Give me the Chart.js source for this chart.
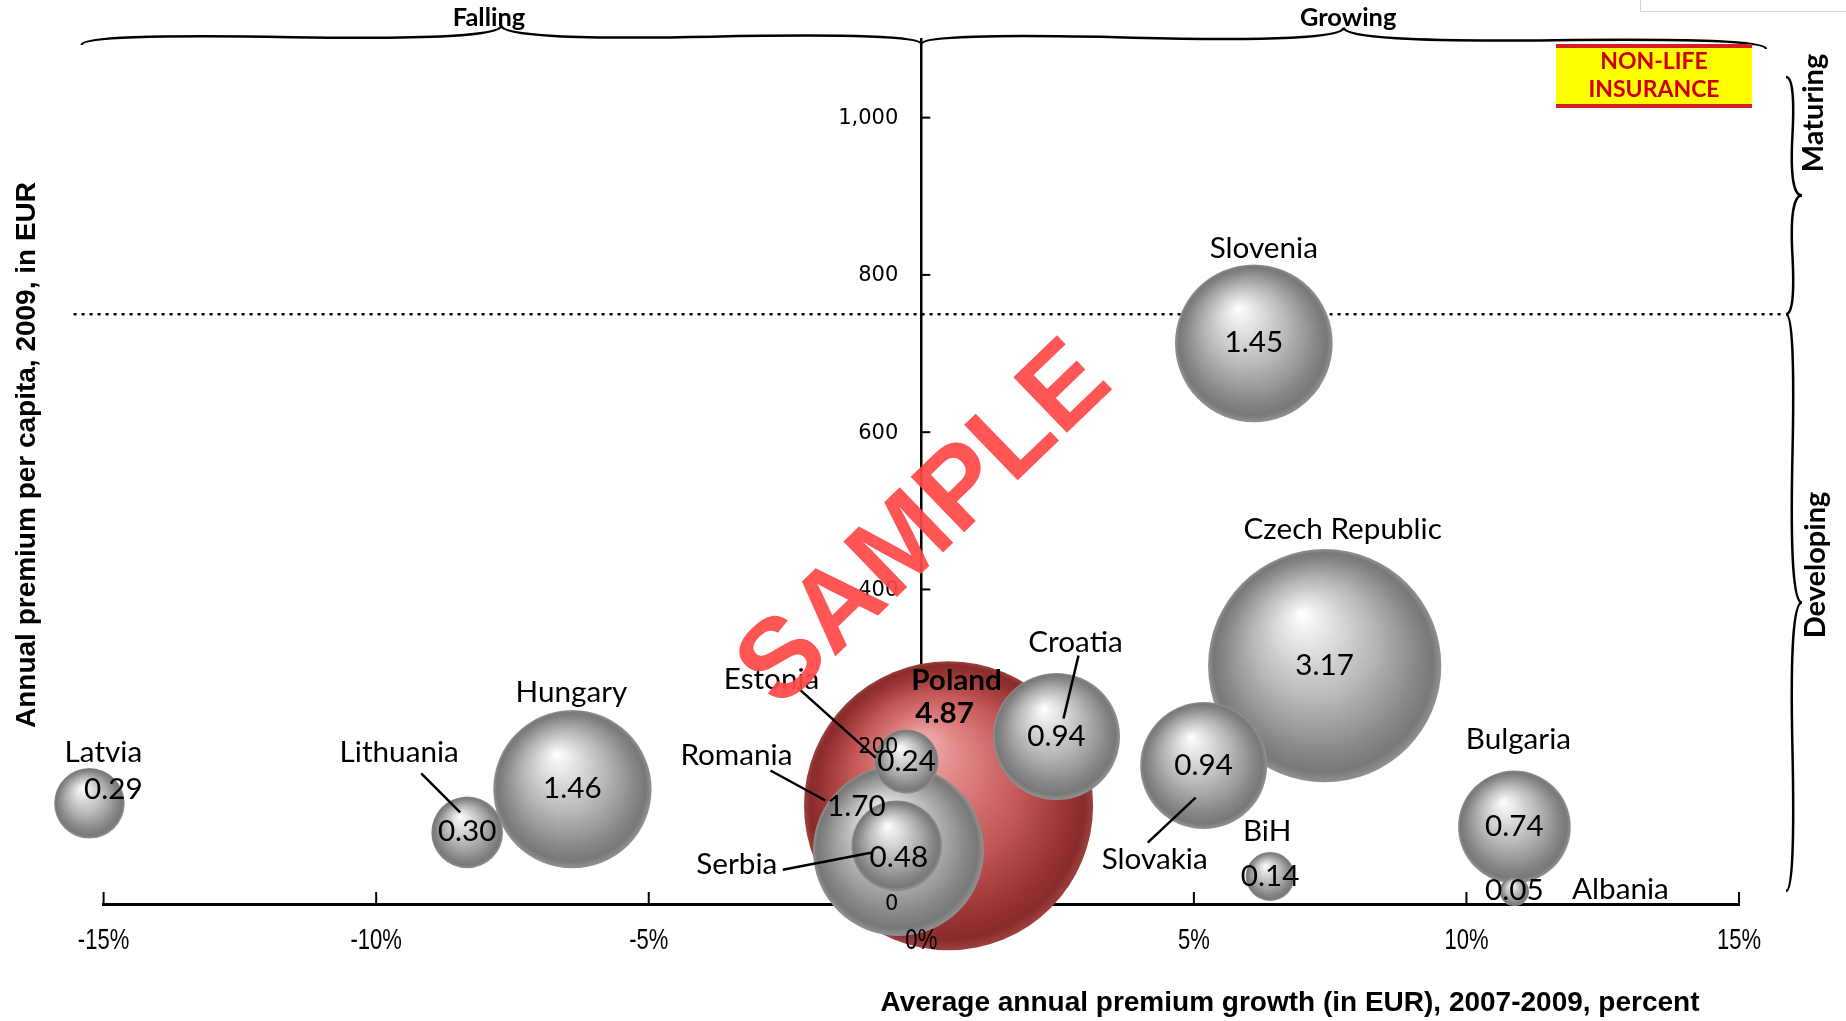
<!DOCTYPE html>
<html>
<head>
<meta charset="utf-8">
<title>Non-life insurance</title>
<script src="https://cdn.jsdelivr.net/npm/chart.js@4.4.1/dist/chart.umd.min.js"></script>
<style>
  html, body { margin: 0; padding: 0; background: #fff; }
</style>
</head>
<body>
<canvas id="bubbleChart" width="1846" height="1021"></canvas>
<script>
// data (largest bubble first so small ones are drawn on top)
const countries = ['Poland', 'Czech Republic', 'Romania', 'Hungary', 'Slovenia', 'Croatia', 'Slovakia', 'Bulgaria', 'Serbia', 'Lithuania', 'Latvia', 'Estonia', 'BiH', 'Albania'];
const premiumGrowth = [0.5, 7.4, -0.42, -6.4, 6.1, 2.48, 5.18, 10.88, -0.45, -8.33, -15.26, -0.27, 6.4, 10.88];
const premiumPerCapita = [125, 303, 68, 146, 713, 213, 176, 98, 74, 91, 128, 181, 35, 16];
const marketSize = [4.87, 3.17, 1.70, 1.46, 1.45, 0.94, 0.94, 0.74, 0.48, 0.30, 0.29, 0.24, 0.14, 0.05];
const xTicks = [-15, -10, -5, 0, 5, 10, 15];
const yTicks = [0, 200, 400, 600, 800, 1000];
const maturingLevel = 750;

const SIZE_K = 65.5;   // px per sqrt(bubble value)
const highlight = 'Poland';

// label placement relative to bubble centre, in px
const labelLayout = {
    'Poland': { name: [8, -125], value: [-4, -92], bold: true },
    'Czech Republic': { name: [18, -136] },
    'Romania': { name: [-162, -95], line: [-128, -80, -73, -50], value: [-42, -44] },
    'Hungary': { name: [-1, -96] },
    'Slovenia': { name: [10, -94] },
    'Croatia': { name: [19, -94], line: [22, -81, 7, -18] },
    'Slovakia': { name: [-49, 94], line: [-8, 32, -56, 77] },
    'Bulgaria': { name: [4, -87] },
    'Serbia': { name: [-160, 19], line: [-114, 24, -26, 7], value: [2, 12] },
    'Lithuania': { name: [-68, -79], line: [-46, -59, -7, -20] },
    'Latvia': { name: [14, -50], value: [24, -13] },
    'Estonia': { name: [-135, -82], line: [-109, -74, -31, -4] },
    'BiH': { name: [-3, -45] },
    'Albania': { name: [106, -1] }
};

const grayStops = [[0, '#ffffff'], [0.22, '#e0e0e0'], [0.55, '#b2b2b2'], [0.82, '#888888'], [0.94, '#787878'], [1, '#929292']];
const redStops = [[0, '#f6b4b4'], [0.25, '#e08585'], [0.6, '#c25555'], [0.86, '#963232'], [0.95, '#8a2c2c'], [1, '#9c4040']];

function bubbleRadius(i) {
    return SIZE_K * Math.sqrt(marketSize[i]);
}

function sphereFill(c) {
    const chart = c.chart;
    const i = c.dataIndex;
    const isRed = countries[i] === highlight;
    const base = isRed ? '#c25555' : '#a8a8a8';
    if (!chart.chartArea || i === undefined) return base;
    const cx = chart.scales.x.getPixelForValue(premiumGrowth[i]);
    const cy = chart.scales.y.getPixelForValue(premiumPerCapita[i]);
    if (!isFinite(cx) || !isFinite(cy)) return base;
    const r = bubbleRadius(i);
    const g = chart.ctx.createRadialGradient(cx - 0.2 * r, cy - 0.45 * r, 0, cx, cy, r);
    (isRed ? redStops : grayStops).forEach(s => g.addColorStop(s[0], s[1]));
    return g;
}

function brace(ctx, x1, y1, x2, y2, w, q) {
    let dx = x1 - x2, dy = y1 - y2;
    const len = Math.hypot(dx, dy);
    dx /= len; dy /= len;
    const qx1 = x1 + q * w * dy, qy1 = y1 - q * w * dx;
    const qx2 = (x1 - .25 * len * dx) + (1 - q) * w * dy, qy2 = (y1 - .25 * len * dy) - (1 - q) * w * dx;
    const tx = (x1 - .5 * len * dx) + w * dy, ty = (y1 - .5 * len * dy) - w * dx;
    const qx3 = x2 + q * w * dy, qy3 = y2 - q * w * dx;
    const qx4 = (x1 - .75 * len * dx) + (1 - q) * w * dy, qy4 = (y1 - .75 * len * dy) - (1 - q) * w * dx;
    ctx.stroke(new Path2D(`M ${x1} ${y1} Q ${qx1} ${qy1} ${qx2} ${qy2} T ${tx} ${ty} M ${x2} ${y2} Q ${qx3} ${qy3} ${qx4} ${qy4} T ${tx} ${ty}`));
}

// text stretched or squeezed sideways, like the original export
function wideText(ctx, text, x, y, sx) {
    ctx.save();
    ctx.translate(x, y);
    ctx.scale(sx, 1);
    ctx.fillText(text, 0, 0);
    ctx.restore();
}

const decorations = {
    id: 'decorations',
    beforeDatasetsDraw(chart) {
        const { ctx, chartArea: a, scales: { x, y } } = chart;
        const x0 = x.getPixelForValue(0);
        const yy = y.getPixelForValue(maturingLevel);
        ctx.save();
        ctx.strokeStyle = '#000';

        // maturing / developing threshold
        ctx.lineWidth = 2.5;
        ctx.setLineDash([3, 5]);
        ctx.beginPath();
        ctx.moveTo(a.left - 30, yy);
        ctx.lineTo(a.right + 45, yy);
        ctx.stroke();
        ctx.setLineDash([]);

        // tick marks point into the plot
        ctx.lineWidth = 2;
        yTicks.forEach(v => {
            const p = y.getPixelForValue(v);
            ctx.beginPath(); ctx.moveTo(x0, p); ctx.lineTo(x0 + 9, p); ctx.stroke();
        });
        xTicks.forEach(v => {
            const p = x.getPixelForValue(v);
            ctx.beginPath(); ctx.moveTo(p, a.bottom); ctx.lineTo(p, a.bottom - 12); ctx.stroke();
        });

        // braces
        ctx.lineWidth = 2.5;
        brace(ctx, x0, a.top + 5, a.left - 22, a.top + 6, 19, 0.6);
        brace(ctx, a.right + 27, a.top + 10, x0, a.top + 5, 19, 0.6);
        brace(ctx, a.right + 47, yy, a.right + 47, a.top + 38, 16, 0.6);
        brace(ctx, a.right + 47, a.bottom - 13, a.right + 47, yy, 16, 0.6);

        ctx.fillStyle = '#000';
        ctx.textAlign = 'center';
        ctx.textBaseline = 'middle';
        ctx.font = 'bold 24px Lato';
        wideText(ctx, 'Falling', x.getPixelForValue(-7.93), 18, 1.06);
        wideText(ctx, 'Growing', x.getPixelForValue(7.83), 18, 1.06);

        ctx.font = 'bold 29px Lato';
        ctx.save();
        ctx.translate(a.right + 75, 113);
        ctx.rotate(-Math.PI / 2);
        ctx.fillText('Maturing', 0, 0);
        ctx.restore();
        ctx.save();
        ctx.translate(a.right + 77, 565);
        ctx.rotate(-Math.PI / 2);
        ctx.fillText('Developing', 0, 0);
        ctx.restore();

        // axis titles
        ctx.font = 'bold 28px "Liberation Sans", Arial';
        ctx.save();
        ctx.translate(27, 455);
        ctx.rotate(-Math.PI / 2);
        ctx.fillText('Annual premium per capita, 2009, in EUR', 0, 0, 546);
        ctx.restore();
        ctx.font = 'bold 28px "Liberation Sans", Arial';
        ctx.fillText('Average annual premium growth (in EUR), 2007-2009, percent', 1290, 1003, 824);

        // NON-LIFE INSURANCE tag
        ctx.fillStyle = '#ffff00';
        ctx.fillRect(1556, 46, 196, 60);
        ctx.fillStyle = '#d42020';
        ctx.fillRect(1556, 44, 196, 4);
        ctx.fillRect(1556, 104, 196, 4);
        ctx.fillStyle = '#cc0000';
        ctx.font = 'bold 23px Lato';
        ctx.fillText('NON-LIFE', 1654, 62, 124);
        ctx.fillText('INSURANCE', 1654, 90, 136);

        // window frame remnant, top right
        ctx.strokeStyle = '#d4d4d4';
        ctx.lineWidth = 1;
        ctx.strokeRect(1640.5, -2, 220, 13.5);
        ctx.restore();
    },
    afterDatasetsDraw(chart) {
        const { ctx, chartArea: a, scales: { x, y } } = chart;
        const meta = chart.getDatasetMeta(0);
        const x0 = x.getPixelForValue(0);
        ctx.save();
        ctx.fillStyle = '#000';
        ctx.strokeStyle = '#000';
        ctx.lineWidth = 2.5;
        ctx.textBaseline = 'middle';

        // axis tick labels, drawn over the bubbles
        ctx.textAlign = 'right';
        ctx.font = '21px "DejaVu Sans"';
        yTicks.forEach(v => {
            ctx.fillText(v.toLocaleString('en-US'), x0 - 23, y.getPixelForValue(v) + 1);
        });
        ctx.textAlign = 'center';
        ctx.font = '29px "Liberation Sans", Arial';
        xTicks.forEach(v => {
            wideText(ctx, v + '%', x.getPixelForValue(v), a.bottom + 37, 0.76);
        });

        meta.data.forEach((pt, i) => {
            const L = labelLayout[countries[i]] || { name: [0, -40] };
            const v = L.value || [0, 0];
            if (L.line) {
                ctx.beginPath();
                ctx.moveTo(pt.x + L.line[0], pt.y + L.line[1]);
                ctx.lineTo(pt.x + L.line[2], pt.y + L.line[3]);
                ctx.stroke();
            }
            ctx.font = (L.bold ? 'bold ' : '') + '28px Lato';
            wideText(ctx, countries[i], pt.x + L.name[0], pt.y + L.name[1], 1.06);
            wideText(ctx, marketSize[i].toFixed(2), pt.x + v[0], pt.y + v[1], 1.06);
        });
        ctx.restore();
    },
    afterDraw(chart) {
        const { ctx } = chart;
        ctx.save();
        ctx.translate(926, 526);
        ctx.rotate(-44 * Math.PI / 180);
        ctx.fillStyle = 'rgba(255, 70, 70, 0.92)';
        ctx.font = 'bold 112px "Liberation Sans", Arial';
        ctx.textAlign = 'center';
        ctx.textBaseline = 'middle';
        ctx.fillText('SAMPLE', 0, 0);
        ctx.restore();
    }
};

const ctx = document.getElementById('bubbleChart').getContext('2d');
const bubbleChart = new Chart(ctx, {
    type: 'bubble',
    data: {
        datasets: [{
            label: 'Non-life premium',
            data: countries.map((c, i) => ({ x: premiumGrowth[i], y: premiumPerCapita[i] })),
            radius: c => bubbleRadius(c.dataIndex),
            backgroundColor: sphereFill,
            borderWidth: 0,
            clip: false
        }]
    },
    options: {
        responsive: false,
        animation: false,
        events: [],
        layout: { autoPadding: false, padding: { left: 103.6, right: 107, top: 39, bottom: 57 } },
        plugins: {
            legend: { display: false },
            tooltip: { enabled: false }
        },
        scales: {
            x: {
                type: 'linear',
                min: -15,
                max: 15,
                afterBuildTicks: s => { s.ticks = xTicks.map(v => ({ value: v })); },
                afterFit: s => { s.height = 60; },
                grid: { display: false, drawTicks: false },
                border: { display: true, color: '#000', width: 3 },
                ticks: { display: false }
            },
            y: {
                type: 'linear',
                position: { x: 0 },
                min: 0,
                max: 1100,
                afterBuildTicks: s => { s.ticks = yTicks.map(v => ({ value: v })); },
                grid: { display: false, drawTicks: false },
                border: { display: true, color: '#000', width: 2.5 },
                ticks: { display: false }
            }
        }
    },
    plugins: [decorations]
});
</script>
</body>
</html>
